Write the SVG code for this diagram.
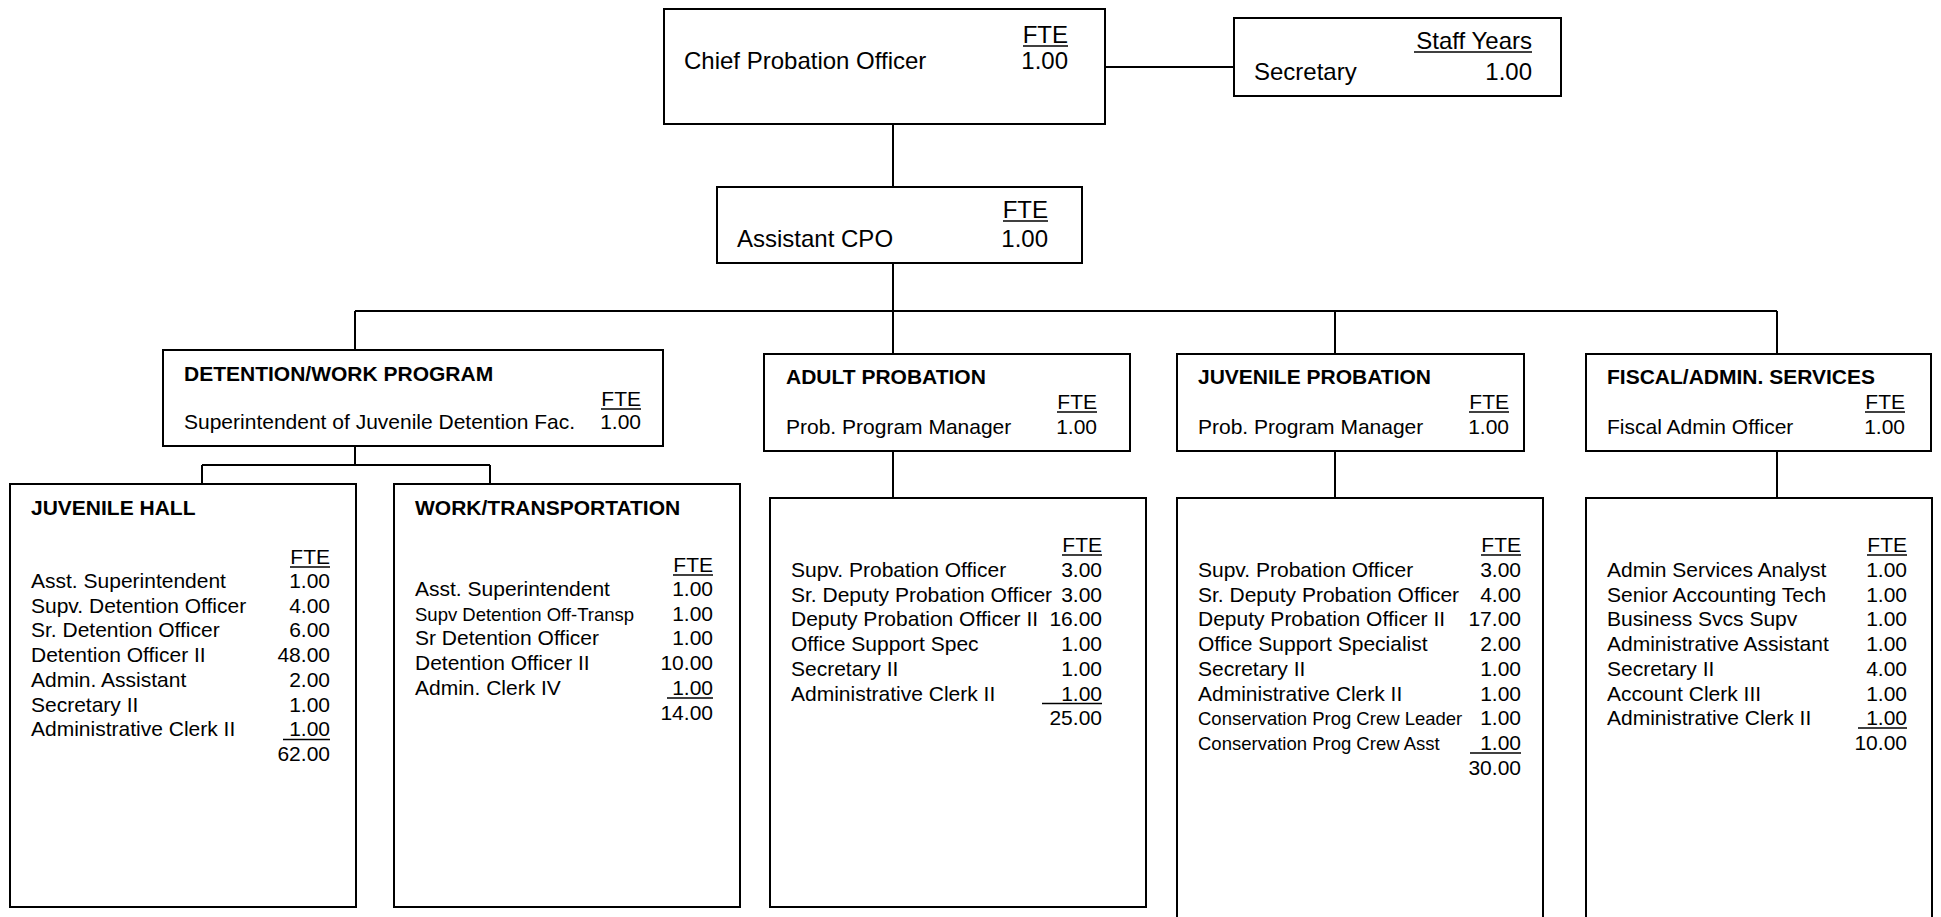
<svg xmlns="http://www.w3.org/2000/svg" width="1941" height="917" viewBox="0 0 1941 917">
<style>
.box{fill:#fff;stroke:#000;stroke-width:2}
.conn line{stroke:#000;stroke-width:2}
.ul{stroke:#000;stroke-width:1.6}
text{font-family:"Liberation Sans",Arial,sans-serif;fill:#000;font-size:21px}
.t24{font-size:24px}
.sm{font-size:18.5px}
.b{font-weight:bold}
.r{text-anchor:end}
</style>
<rect width="1941" height="917" fill="#fff"/>
<g id="connectors" class="conn">
<line x1="1105" y1="67" x2="1234" y2="67"/>
<line x1="893" y1="124" x2="893" y2="187"/>
<line x1="893" y1="263" x2="893" y2="311"/>
<line x1="355" y1="311" x2="1777" y2="311"/>
<line x1="355" y1="311" x2="355" y2="350"/>
<line x1="893" y1="311" x2="893" y2="354"/>
<line x1="1335" y1="311" x2="1335" y2="354"/>
<line x1="1777" y1="311" x2="1777" y2="354"/>
<line x1="355" y1="446" x2="355" y2="465"/>
<line x1="202" y1="465" x2="490" y2="465"/>
<line x1="202" y1="465" x2="202" y2="484"/>
<line x1="490" y1="465" x2="490" y2="484"/>
<line x1="893" y1="451" x2="893" y2="498"/>
<line x1="1335" y1="451" x2="1335" y2="498"/>
<line x1="1777" y1="451" x2="1777" y2="498"/>
</g>
<g id="chief">
<rect class="box" x="664" y="9" width="441" height="115"/>
<text class="t24" x="684" y="69">Chief Probation Officer</text>
<text class="t24 r" x="1068" y="43">FTE</text>
<line class="ul" x1="1023" y1="46" x2="1068" y2="46"/>
<text class="t24 r" x="1068" y="69">1.00</text>
</g>
<g id="secretary">
<rect class="box" x="1234" y="18" width="327" height="78"/>
<text class="t24 r" x="1532" y="49">Staff Years</text>
<line class="ul" x1="1414" y1="52" x2="1532" y2="52"/>
<text class="t24" x="1254" y="80">Secretary</text>
<text class="t24 r" x="1532" y="80">1.00</text>
</g>
<g id="assistant-cpo">
<rect class="box" x="717" y="187" width="365" height="76"/>
<text class="t24 r" x="1048" y="218">FTE</text>
<line class="ul" x1="1003" y1="221" x2="1048" y2="221"/>
<text class="t24" x="737" y="247">Assistant CPO</text>
<text class="t24 r" x="1048" y="247">1.00</text>
</g>
<g id="detention-work">
<rect class="box" x="163" y="350" width="500" height="96"/>
<text class="b" x="184" y="381">DETENTION/WORK PROGRAM</text>
<text class="r" x="641" y="406">FTE</text>
<line class="ul" x1="601" y1="409" x2="641" y2="409"/>
<text x="184" y="429">Superintendent of Juvenile Detention Fac.</text>
<text class="r" x="641" y="429">1.00</text>
</g>
<g id="adult-probation">
<rect class="box" x="764" y="354" width="366" height="97"/>
<text class="b" x="786" y="384">ADULT PROBATION</text>
<text class="r" x="1097" y="409">FTE</text>
<line class="ul" x1="1057" y1="412" x2="1097" y2="412"/>
<text x="786" y="434">Prob. Program Manager</text>
<text class="r" x="1097" y="434">1.00</text>
</g>
<g id="juvenile-probation">
<rect class="box" x="1177" y="354" width="347" height="97"/>
<text class="b" x="1198" y="384">JUVENILE PROBATION</text>
<text class="r" x="1509" y="409">FTE</text>
<line class="ul" x1="1469" y1="412" x2="1509" y2="412"/>
<text x="1198" y="434">Prob. Program Manager</text>
<text class="r" x="1509" y="434">1.00</text>
</g>
<g id="fiscal-admin">
<rect class="box" x="1586" y="354" width="345" height="97"/>
<text class="b" x="1607" y="384">FISCAL/ADMIN. SERVICES</text>
<text class="r" x="1905" y="409">FTE</text>
<line class="ul" x1="1865" y1="412" x2="1905" y2="412"/>
<text x="1607" y="434">Fiscal Admin Officer</text>
<text class="r" x="1905" y="434">1.00</text>
</g>
<g id="juvenile-hall">
<rect class="box" x="10" y="484" width="346" height="423"/>
<text class="b" x="31" y="515">JUVENILE HALL</text>
<text class="r" x="330" y="564">FTE</text>
<line class="ul" x1="290" y1="567" x2="330" y2="567"/>
<text x="31" y="588">Asst. Superintendent</text><text class="r" x="330" y="588">1.00</text>
<text x="31" y="612.7">Supv. Detention Officer</text><text class="r" x="330" y="612.7">4.00</text>
<text x="31" y="637.4">Sr. Detention Officer</text><text class="r" x="330" y="637.4">6.00</text>
<text x="31" y="662.1">Detention Officer II</text><text class="r" x="330" y="662.1">48.00</text>
<text x="31" y="686.8">Admin. Assistant</text><text class="r" x="330" y="686.8">2.00</text>
<text x="31" y="711.5">Secretary II</text><text class="r" x="330" y="711.5">1.00</text>
<text x="31" y="736.2">Administrative Clerk II</text><text class="r" x="330" y="736.2">1.00</text>
<line class="ul" x1="283" y1="739.5" x2="330" y2="739.5"/>
<text class="r" x="330" y="760.9">62.00</text>
</g>
<g id="work-transportation">
<rect class="box" x="394" y="484" width="346" height="423"/>
<text class="b" x="415" y="515">WORK/TRANSPORTATION</text>
<text class="r" x="713" y="572">FTE</text>
<line class="ul" x1="673" y1="575" x2="713" y2="575"/>
<text x="415" y="596">Asst. Superintendent</text><text class="r" x="713" y="596">1.00</text>
<text class="sm" x="415" y="620.7">Supv Detention Off-Transp</text><text class="r" x="713" y="620.7">1.00</text>
<text x="415" y="645.4">Sr Detention Officer</text><text class="r" x="713" y="645.4">1.00</text>
<text x="415" y="670.1">Detention Officer II</text><text class="r" x="713" y="670.1">10.00</text>
<text x="415" y="694.8">Admin. Clerk IV</text><text class="r" x="713" y="694.8">1.00</text>
<line class="ul" x1="667" y1="698" x2="713" y2="698"/>
<text class="r" x="713" y="719.5">14.00</text>
</g>
<g id="adult-staff">
<rect class="box" x="770" y="498" width="376" height="409"/>
<text class="r" x="1102" y="552">FTE</text>
<line class="ul" x1="1062" y1="555" x2="1102" y2="555"/>
<text x="791" y="577">Supv. Probation Officer</text><text class="r" x="1102" y="577">3.00</text>
<text x="791" y="601.7">Sr. Deputy Probation Officer</text><text class="r" x="1102" y="601.7">3.00</text>
<text x="791" y="626.4">Deputy Probation Officer II</text><text class="r" x="1102" y="626.4">16.00</text>
<text x="791" y="651.1">Office Support Spec</text><text class="r" x="1102" y="651.1">1.00</text>
<text x="791" y="675.8">Secretary II</text><text class="r" x="1102" y="675.8">1.00</text>
<text x="791" y="700.5">Administrative Clerk II</text><text class="r" x="1102" y="700.5">1.00</text>
<line class="ul" x1="1042" y1="703.5" x2="1102" y2="703.5"/>
<text class="r" x="1102" y="725.2">25.00</text>
</g>
<g id="juvenile-staff">
<rect class="box" x="1177" y="498" width="366" height="440"/>
<text class="r" x="1521" y="552">FTE</text>
<line class="ul" x1="1481" y1="555" x2="1521" y2="555"/>
<text x="1198" y="577">Supv. Probation Officer</text><text class="r" x="1521" y="577">3.00</text>
<text x="1198" y="601.7">Sr. Deputy Probation Officer</text><text class="r" x="1521" y="601.7">4.00</text>
<text x="1198" y="626.4">Deputy Probation Officer II</text><text class="r" x="1521" y="626.4">17.00</text>
<text x="1198" y="651.1">Office Support Specialist</text><text class="r" x="1521" y="651.1">2.00</text>
<text x="1198" y="675.8">Secretary II</text><text class="r" x="1521" y="675.8">1.00</text>
<text x="1198" y="700.5">Administrative Clerk II</text><text class="r" x="1521" y="700.5">1.00</text>
<text class="sm" x="1198" y="725.2">Conservation Prog Crew Leader</text><text class="r" x="1521" y="725.2">1.00</text>
<text class="sm" x="1198" y="749.9">Conservation Prog Crew Asst</text><text class="r" x="1521" y="749.9">1.00</text>
<line class="ul" x1="1470" y1="753" x2="1521" y2="753"/>
<text class="r" x="1521" y="774.6">30.00</text>
</g>
<g id="fiscal-staff">
<rect class="box" x="1586" y="498" width="346" height="440"/>
<text class="r" x="1907" y="552">FTE</text>
<line class="ul" x1="1867" y1="555" x2="1907" y2="555"/>
<text x="1607" y="577">Admin Services Analyst</text><text class="r" x="1907" y="577">1.00</text>
<text x="1607" y="601.7">Senior Accounting Tech</text><text class="r" x="1907" y="601.7">1.00</text>
<text x="1607" y="626.4">Business Svcs Supv</text><text class="r" x="1907" y="626.4">1.00</text>
<text x="1607" y="651.1">Administrative Assistant</text><text class="r" x="1907" y="651.1">1.00</text>
<text x="1607" y="675.8">Secretary II</text><text class="r" x="1907" y="675.8">4.00</text>
<text x="1607" y="700.5">Account Clerk III</text><text class="r" x="1907" y="700.5">1.00</text>
<text x="1607" y="725.2">Administrative Clerk II</text><text class="r" x="1907" y="725.2">1.00</text>
<line class="ul" x1="1858" y1="728" x2="1907" y2="728"/>
<text class="r" x="1907" y="749.9">10.00</text>
</g>
</svg>
